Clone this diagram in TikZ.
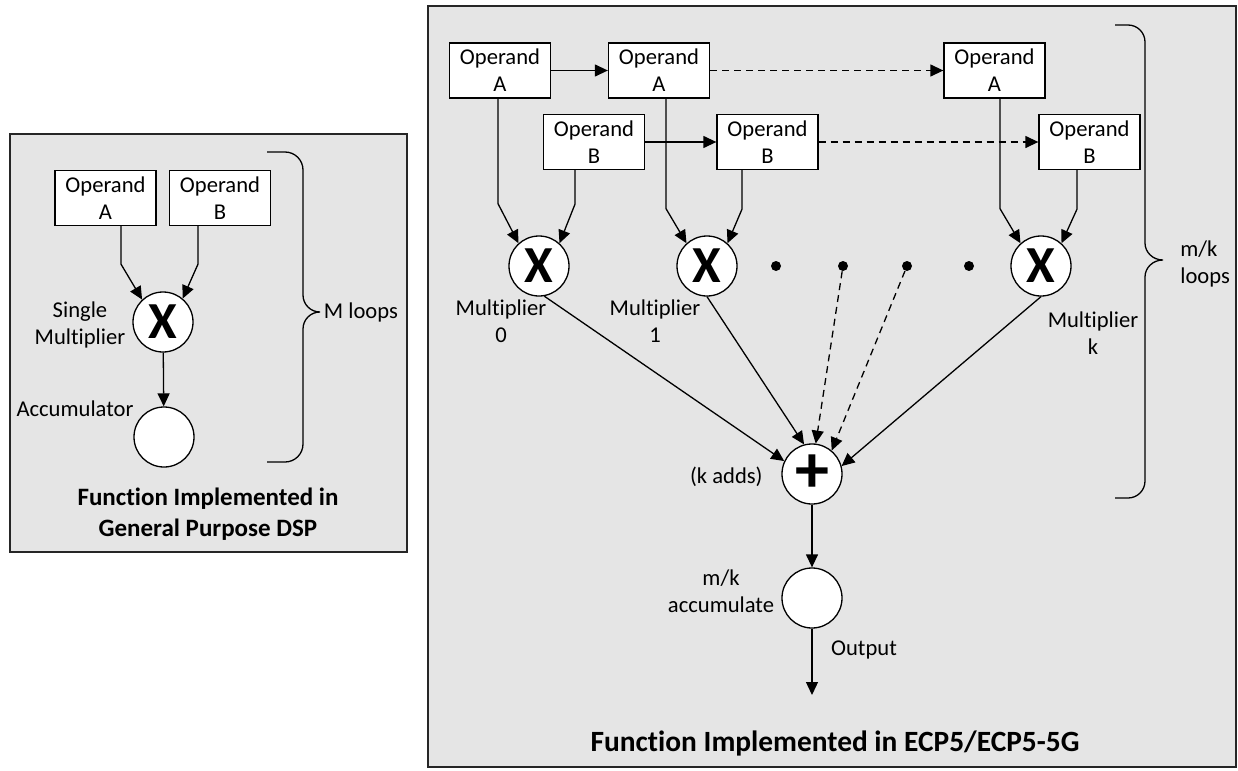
\documentclass[tikz,border=0pt]{standalone}
\usepackage{fontspec}
\setmainfont[Ligatures=NoCommon]{Carlito}
\usetikzlibrary{arrows.meta}

\tikzset{
  panel/.style={draw=black!85, line width=0.75pt, fill=black!10},
  opbox/.style={draw, fill=white, line width=0.65pt, minimum width=50.5pt,
    minimum height=27.5pt, inner sep=0pt, align=center,
    font=\fontsize{11.3}{13.5}\selectfont},
  ring/.style={circle, draw, fill=white, line width=0.65pt,
    minimum size=30pt, inner sep=0pt},
  xnode/.style={ring, font=\fontsize{26}{26}\selectfont\bfseries},
  sumnode/.style={ring, font=\fontsize{34}{34}\selectfont\bfseries},
  lbl/.style={align=center, inner sep=0pt, font=\fontsize{11.3}{13.5}\selectfont},
  ttl/.style={align=center, inner sep=0pt, font=\bfseries\fontsize{12.5}{15.5}\selectfont},
  arr/.style={line width=0.65pt, -{Triangle[length=6.5pt,width=6pt]}},
  dsh/.style={arr, dash pattern=on 3.5pt off 2.5pt},
  bullet/.style={circle, fill, inner sep=0pt, minimum size=5pt},
  brc/.style={line width=0.65pt},
}

\begin{document}
\begin{tikzpicture}[x=0.5pt, y=-0.5pt]
  \useasboundingbox (0,0) rectangle (1238,771);

  % general purpose DSP
  \draw[panel] (10,134) rectangle (407,552);
  \node[opbox] (opA) at (105.5,198) {Operand\\A};
  \node[opbox] (opB) at (220,198) {Operand\\B};
  \node[xnode] (mul) at (163,322) {X};
  \node[ring] (acc) at (164,437) {};
  \draw[arr] ([xshift=7.75pt]opA.south) -- ++(0,38) -- (mul.133);
  \draw[arr] ([xshift=-11pt]opB.south) -- ++(0,38) -- (mul.50);
  \draw[arr] (mul) -- (acc);
  \node[lbl] (lmul) at (80,325) {Single\\Multiplier};
  \node[lbl] (lacc) at (75,409) {Accumulator};
  \draw[brc] (267,152) -- (285,152) to[out=0,in=90] (303,170)
    -- (303,295) to[out=-90,in=180] (320,312) to[out=180,in=90] (303,329)
    -- (303,444) to[out=-90,in=0] (285,462) -- (267,462);
  \node[lbl] (lloops) at (361,312) {M loops};
  \node[ttl] (ltitle) at (208,514) {Function Implemented in\\General Purpose DSP};

  % ECP5 parallel version
  \draw[panel] (428,6) rectangle (1236,767);
  \node[opbox] (A0) at (500,70.5) {Operand\\A};
  \node[opbox] (A1) at (659,70.5) {Operand\\A};
  \node[opbox] (Ak) at (994.5,70.5) {Operand\\A};
  \node[opbox] (B0) at (594,142) {Operand\\B};
  \node[opbox] (B1) at (767.5,142) {Operand\\B};
  \node[opbox] (Bk) at (1089.5,142) {Operand\\B};
  \draw[arr] (A0) -- (A1);
  \draw[dsh] (A1) -- (Ak);
  \draw[arr] (B0) -- (B1);
  \draw[dsh] (B1) -- (Bk);

  \node[xnode] (M0) at (539,266) {X};
  \node[xnode] (M1) at (707,266) {X};
  \node[xnode] (Mk) at (1041,266) {X};
  \draw[arr] ([xshift=-1pt]A0.south) -- ++(0,105) -- (M0.132);
  \draw[arr] ([xshift=-9.5pt]B0.south) -- ++(0,34) -- (M0.48);
  \draw[arr] ([xshift=3.5pt]A1.south) -- ++(0,110) -- (M1.132);
  \draw[arr] ([xshift=-12.75pt]B1.south) -- ++(0,39) -- (M1.48);
  \draw[arr] ([xshift=2.75pt]Ak.south) -- ++(0,110) -- (Mk.132);
  \draw[arr] ([xshift=-6.25pt]Bk.south) -- ++(0,39) -- (Mk.48);
  \node[lbl] (lM0) at (501,321) {Multiplier\\0};
  \node[lbl] (lM1) at (655,321) {Multiplier\\1};
  \node[lbl] (lMk) at (1093,333) {Multiplier\\k};

  \foreach \i/\x in {1/776,2/843,3/907,4/969}
    \node[bullet] (d\i) at (\x,266) {};

  \node[sumnode] (sum) at (812,474) {+};
  \node[ring] (acck) at (812,598) {};
  \coordinate (out) at (812,695);
  \draw[arr] (M0.-80) -- (sum.155);
  \draw[arr] (M1.south) -- (sum.105);
  \draw[dsh] (d2) -- (sum.83);
  \draw[dsh] (d3) -- (sum.50);
  \draw[arr] (Mk.south) -- (sum.15);
  \draw[arr] (sum) -- (acck);
  \draw[arr] (acck) -- (out);
  \node[lbl, anchor=east] (lsum) at (763,477) {(k adds)};
  \node[lbl] (lacck) at (721,591) {m/k\\accumulate};
  \node[lbl] (lout) at (864,650) {Output};

  \draw[brc] (1115,25) -- (1128,25) to[out=0,in=90] (1145,42)
    -- (1145,243) to[out=-90,in=180] (1163,260) to[out=180,in=90] (1145,277)
    -- (1145,481) to[out=-90,in=0] (1128,498) -- (1115,498);
  \node[lbl, align=left, anchor=west] (lkloops) at (1180,264) {m/k\\loops};
  \node[ttl, font=\bfseries\fontsize{14.7}{17}\selectfont] (rtitle) at (835,743)
    {Function Implemented in ECP5/ECP5-5G};
\end{tikzpicture}
\end{document}
